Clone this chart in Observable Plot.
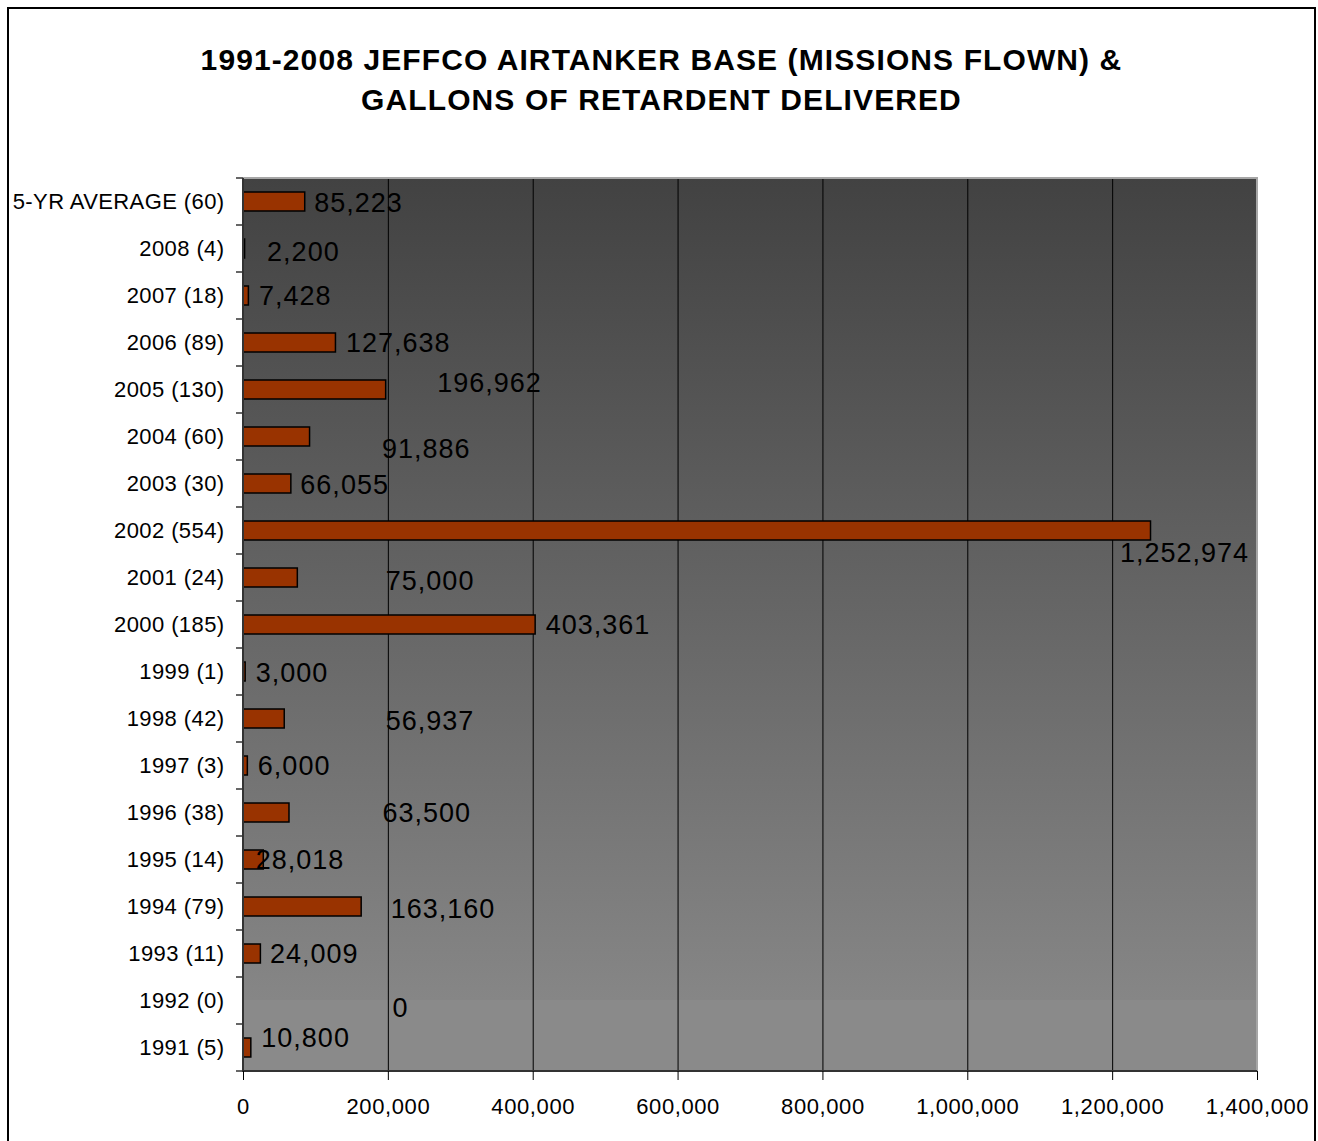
<!DOCTYPE html>
<html>
<head>
<meta charset="utf-8">
<script src="https://cdn.jsdelivr.net/npm/d3@7"></script>
<script src="https://cdn.jsdelivr.net/npm/@observablehq/plot@0.6"></script>
<style>
  body { margin: 0; background: #fff; font-family: "Liberation Sans", Arial, sans-serif; }
  #frame { position: absolute; left: 7px; top: 7px; width: 1309px; height: 1160px; border: 2px solid #000; box-sizing: border-box; overflow: hidden; background: #fff; }
  #title { position: absolute; left: 0; top: 31px; width: 100%; text-align: center; font-weight: bold; font-size: 30px; letter-spacing: 1.1px; line-height: 40px; color: #000; }
  #chart { position: absolute; left: 0; top: 121px; }
  #chart g[aria-label="text"] text { letter-spacing: 1px; }
  #chart g[aria-label="x-axis tick label"] text { letter-spacing: 0.6px; }
  #chart g[aria-label="y-axis tick label"] text { letter-spacing: 0.4px; }
</style>
</head>
<body>
<div id="frame">
  <div id="title">1991-2008 JEFFCO AIRTANKER BASE (MISSIONS FLOWN) &amp;<br>GALLONS OF RETARDENT DELIVERED</div>
  <div id="chart"></div>
</div>
<script>
// ---- data ----
const categories = [
  "5-YR AVERAGE (60)", "2008 (4)", "2007 (18)", "2006 (89)", "2005 (130)",
  "2004 (60)", "2003 (30)", "2002 (554)", "2001 (24)", "2000 (185)",
  "1999 (1)", "1998 (42)", "1997 (3)", "1996 (38)", "1995 (14)",
  "1994 (79)", "1993 (11)", "1992 (0)", "1991 (5)"
];
const gallons = [
  85223, 2200, 7428, 127638, 196962,
  91886, 66055, 1252974, 75000, 403361,
  3000, 56937, 6000, 63500, 28018,
  163160, 24009, 0, 10800
];
const xTicks = [0, 200000, 400000, 600000, 800000, 1000000, 1200000, 1400000];

// ---- label nudges (pixels, matching hand-placed labels of the original) ----
const labelNudge = [
  [0, 1], [13, 3], [1, 0], [1, 0], [42, -7],
  [63, 12], [0, 1], [-40, 22], [79, 3], [1, 0],
  [1, 1], [92, 2], [1, 0], [84, 0], [-17, 0],
  [20, 2], [0, 0], [140, 7], [1, -10]
];

const data = categories.map((c, i) => ({cat: c, value: gallons[i]}));

const W = 1305, H = 1011;
const mL = 234, mR = 57, mT = 48, mB = 70;

function background(index, scales, values, dim) {
  const g = d3.create("svg:g");
  const defs = g.append("defs");
  const lg = defs.append("linearGradient").attr("id", "bgGrad")
    .attr("x1", 0).attr("y1", 0).attr("x2", 0).attr("y2", 1);
  lg.append("stop").attr("offset", "0%").attr("stop-color", "#424242");
  lg.append("stop").attr("offset", "92%").attr("stop-color", "#868686");
  lg.append("stop").attr("offset", "92%").attr("stop-color", "#8a8a8a");
  lg.append("stop").attr("offset", "100%").attr("stop-color", "#8a8a8a");
  g.append("rect")
    .attr("x", dim.marginLeft).attr("y", dim.marginTop)
    .attr("width", dim.width - dim.marginLeft - dim.marginRight)
    .attr("height", dim.height - dim.marginTop - dim.marginBottom)
    .attr("fill", "url(#bgGrad)");
  return g.node();
}

function frameLines(index, scales, values, dim) {
  const g = d3.create("svg:g");
  const x0 = dim.marginLeft, x1 = dim.width - dim.marginRight;
  const y0 = dim.marginTop, y1 = dim.height - dim.marginBottom;
  g.append("path").attr("d", `M${x0},${y0}H${x1}V${y1}`)
    .attr("fill", "none").attr("stroke", "#a6a6a6").attr("stroke-width", 2);
  g.append("path").attr("d", `M${x0},${y0}V${y1}H${x1}`)
    .attr("fill", "none").attr("stroke", "#333").attr("stroke-width", 2);
  const bounds = categories.map(c => scales.y(c)).concat([y1]);
  bounds.forEach(b => {
    g.append("line").attr("x1", x0 - 7).attr("x2", x0).attr("y1", b).attr("y2", b)
      .attr("stroke", "#333").attr("stroke-width", 1.5);
  });
  return g.node();
}

const fmt = d3.format(",");

const chart = Plot.plot({
  width: W,
  height: H,
  marginLeft: mL,
  marginRight: mR,
  marginTop: mT,
  marginBottom: mB,
  style: {fontFamily: "'Liberation Sans', Arial, sans-serif", background: "transparent", color: "#000"},
  x: {domain: [0, 1400000]},
  y: {domain: categories, padding: 0},
  marks: [
    background,
    Plot.gridX(xTicks.slice(1, -1), {stroke: "#000", strokeOpacity: 1, strokeWidth: 1}),
    Plot.barX(data, {x: "value", y: "cat", fill: "#993300", stroke: "#000", strokeWidth: 1.5, insetTop: 14, insetBottom: 14}),
    frameLines,
    Plot.axisY({tickSize: 0, tickPadding: 19, fontSize: 22, label: null}),
    Plot.axisX({ticks: xTicks, tickFormat: d => fmt(d), tickSize: 9, tickPadding: 18, fontSize: 22, label: null, stroke: "#000"}),
    Plot.text(data, {x: "value", y: "cat", text: d => fmt(d.value), textAnchor: "start", dx: 9, fontSize: 27, fill: "#000"})
  ]
});

document.getElementById("chart").appendChild(chart);

d3.select(chart).selectAll('g[aria-label="text"] text').each(function(_, i) {
  const n = labelNudge[i] || [0, 0];
  const t = this.getAttribute("transform");
  this.setAttribute("transform", (t ? t + " " : "") + `translate(${n[0]},${n[1]})`);
});
</script>
</body>
</html>
